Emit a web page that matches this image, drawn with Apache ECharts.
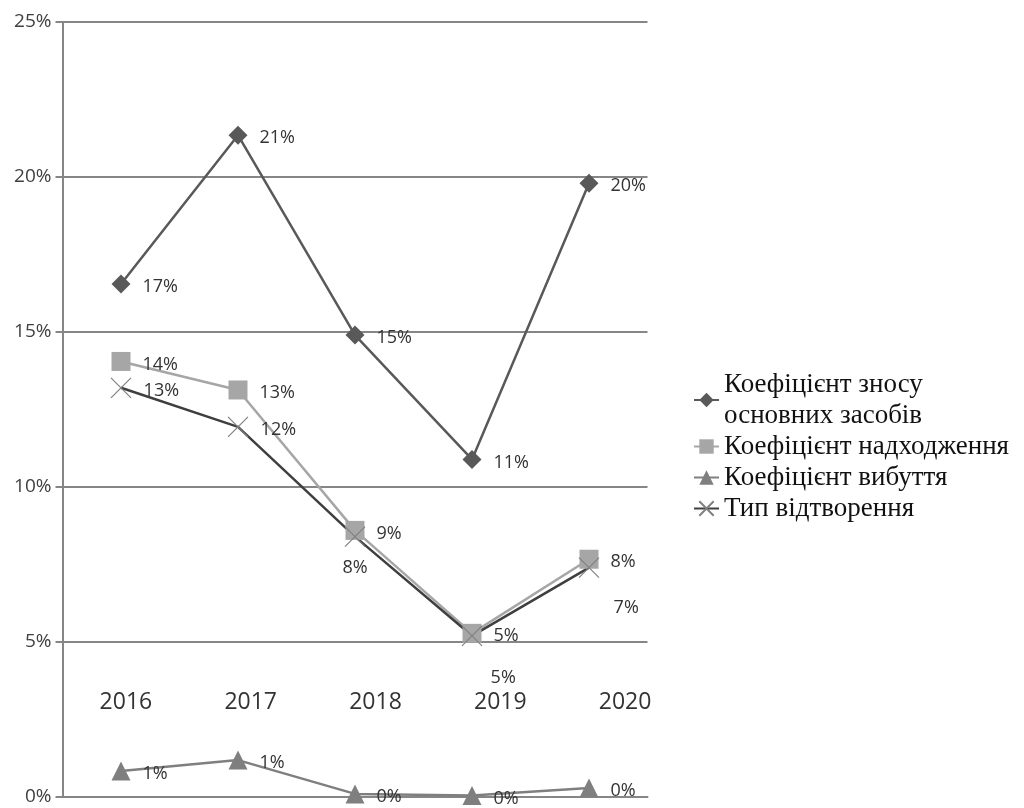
<!DOCTYPE html>
<html>
<head>
<meta charset="utf-8">
<script src="https://cdn.jsdelivr.net/npm/echarts@6/dist/echarts.min.js"></script>
<style>
  html, body { margin: 0; padding: 0; background: #fff; }
  #chart { width: 1024px; height: 808px; }
</style>
</head>
<body>
<div id="chart"></div>
<script>
// Years on the horizontal axis
const years = ['2016', '2017', '2018', '2019', '2020'];

// Coefficients, in percent
const znosu = [16.55, 21.35, 14.9, 10.89, 19.8];        // Коефіцієнт зносу основних засобів
const nadkhodzhennia = [14.05, 13.13, 8.6, 5.28, 7.67];  // Коефіцієнт надходження
const vybuttia = [0.84, 1.19, 0.1, 0.05, 0.29];          // Коефіцієнт вибуття
const vidtvorennia = [13.2, 11.94, 8.4, 5.2, 7.4];       // Тип відтворення

const seriesNames = [
  'Коефіцієнт зносу основних засобів',
  'Коефіцієнт надходження',
  'Коефіцієнт вибуття',
  'Тип відтворення'
];

// Value-axis ticks (percent)
const yMin = 0, yMax = 25, yStep = 5;

const labelFont = 'Open Sans';
const legendFont = '"Liberation Serif", "Times New Roman", serif';
const pct = v => Math.round(v) + '%';

// Builds data items; `placement` optionally overrides the label per point
function points(values, placement) {
  return values.map((v, i) => {
    const p = placement && placement[i];
    return p ? { value: v, label: p } : v;
  });
}

const baseLabel = {
  show: true,
  position: 'right',
  distance: 12,
  offset: [0, 3],
  color: '#333',
  fontFamily: labelFont,
  fontSize: 18,
  formatter: p => pct(p.value)
};

const chart = echarts.init(document.getElementById('chart'), null, { renderer: 'canvas' });

chart.setOption({
  animation: false,
  backgroundColor: '#fff',
  grid: [
    { left: 62.5, width: 585, top: 22, bottom: 11, containLabel: false },
    // strip carrying the year captions
    { left: 63.5, width: 624, top: 600, bottom: 117, containLabel: false }
  ],
  xAxis: [
    {
      type: 'category', gridIndex: 0, data: years, boundaryGap: true,
      axisLine: { show: true, lineStyle: { color: '#868686', width: 2 } },
      axisTick: { show: false },
      axisLabel: { show: false }
    },
    {
      type: 'category', gridIndex: 1, data: years, boundaryGap: true,
      axisLine: { show: false }, axisTick: { show: false },
      axisLabel: { color: '#333', fontFamily: labelFont, fontSize: 23, margin: 0 }
    }
  ],
  yAxis: [
    {
      type: 'value', gridIndex: 0, min: yMin, max: yMax, interval: yStep,
      axisLine: { show: true, lineStyle: { color: '#868686', width: 2 } },
      axisTick: { show: true, inside: false, length: 7, lineStyle: { color: '#868686', width: 2 } },
      axisLabel: { color: '#404040', fontFamily: labelFont, fontSize: 19, margin: 11, formatter: '{value}%' },
      splitLine: { show: true, lineStyle: { color: '#868686', width: 2 } }
    },
    { type: 'value', gridIndex: 1, show: false, min: 0, max: 1 }
  ],
  legend: {
    orient: 'vertical',
    left: 693,
    top: 369,
    padding: 0,
    itemWidth: 25,
    itemHeight: 18,
    itemGap: 0,
    textStyle: { fontFamily: legendFont, fontSize: 27, color: '#111', lineHeight: 31 },
    formatter: name => name === seriesNames[0] ? 'Коефіцієнт зносу\nосновних засобів' : name,
    data: seriesNames
  },
  series: [
    {
      name: seriesNames[0], type: 'line', xAxisIndex: 0, yAxisIndex: 0,
      data: points(znosu),
      symbol: 'diamond', symbolSize: 19,
      lineStyle: { color: '#595959', width: 2.5 },
      itemStyle: { color: '#595959' },
      label: baseLabel
    },
    {
      name: seriesNames[1], type: 'line',
      data: points(nadkhodzhennia),
      symbol: 'rect', symbolSize: 19,
      lineStyle: { color: '#a6a6a6', width: 2.5 },
      itemStyle: { color: '#a6a6a6' },
      label: baseLabel
    },
    {
      name: seriesNames[2], type: 'line',
      data: points(vybuttia),
      symbol: 'triangle', symbolSize: 19,
      lineStyle: { color: '#7f7f7f', width: 2.5 },
      itemStyle: { color: '#7f7f7f' },
      label: baseLabel
    },
    {
      name: seriesNames[3], type: 'line',
      data: points(vidtvorennia, [
        null, null,
        { position: 'bottom', distance: 12, offset: [0, 0] },
        { position: 'right', offset: [-4, 42] },
        { position: 'right', offset: [2, 40] }
      ]),
      symbol: 'path://M0,0L10,10M10,0L0,10', symbolSize: 20,
      lineStyle: { color: '#3f3f3f', width: 2.5 },
      itemStyle: { color: '#808080', borderColor: '#808080', borderWidth: 1.2 },
      label: baseLabel
    }
  ]
});
</script>
</body>
</html>
